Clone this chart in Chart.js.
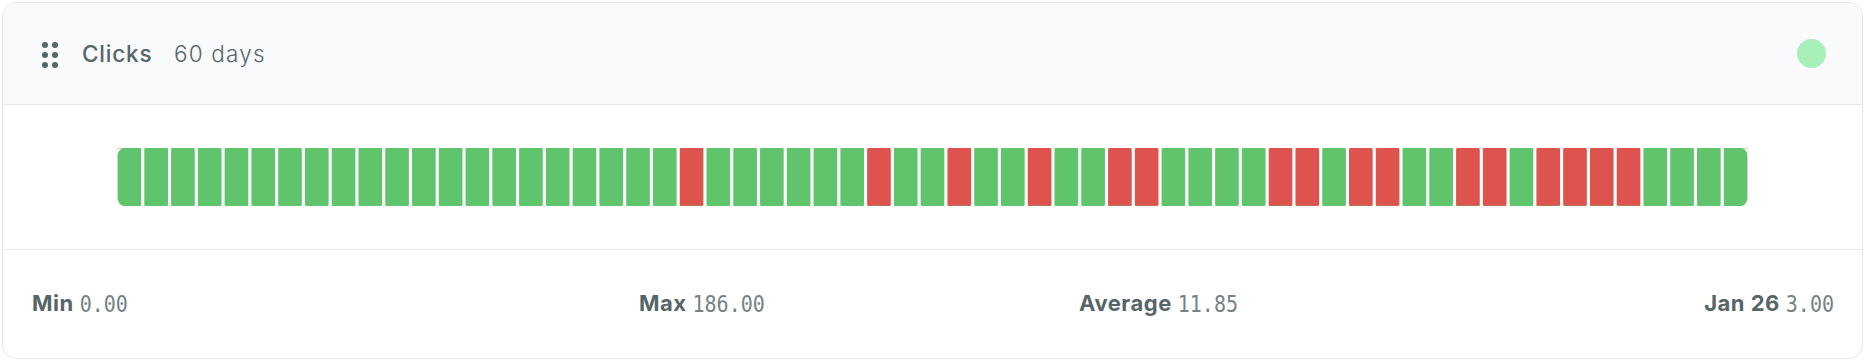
<!DOCTYPE html>
<html>
<head>
<meta charset="utf-8">
<title>Clicks</title>
<script src="https://cdn.jsdelivr.net/npm/chart.js@4"></script>
<style>
    html, body { margin: 0; padding: 0; background: #fff; overflow: hidden; }
    body { width: 1868px; height: 362px; position: relative; font-family: Inter, sans-serif; color: #566668; }
    .card { position: absolute; left: 2px; top: 2px; width: 1859px; height: 355px; border: 1px solid #e5e7eb; border-radius: 14px; overflow: hidden; }
    .head { height: 101px; background: #f9fafc; border-bottom: 1px solid #e5e7eb; }
    .foot { position: absolute; left: 0; right: 0; top: 246px; border-top: 1px solid #e8eaed; }
    .grip { position: absolute; left: 39px; top: 39px; width: 16px; height: 27px; }
    .grip i { position: absolute; width: 6px; height: 6px; border-radius: 50%; background: #566668; }
    .status { position: absolute; left: 1794px; top: 36px; width: 29px; height: 29px; border-radius: 50%; background: #a9efb9; }
    .title, .range, .stat { position: absolute; white-space: nowrap; }
    .title { left: 79px; top: 37px; font-size: 22.5px; line-height: 28px; font-weight: 500; letter-spacing: 0.8px; }
    .range { left: 171px; top: 37px; font-size: 22.5px; line-height: 28px; font-weight: 300; letter-spacing: 1.2px; }
    .stat { top: 285px; font-size: 22px; line-height: 30px; font-weight: 700; letter-spacing: 0.5px; }
    .stat span { display: inline-block; transform: scaleY(1.14); letter-spacing: 0; font-family: "DejaVu Sans Mono", monospace; font-weight: 400; font-size: 20px; color: #748285; margin-left: 6px; }
    #chartWrap { position: absolute; left: 116px; top: 148px; width: 1633px; height: 58px; }
</style>
</head>
<body>
<div class="card">
    <div class="head"></div>
    <div class="foot"></div>
    <div class="grip">
        <i style="left:0;top:0"></i><i style="left:10px;top:0"></i>
        <i style="left:0;top:10px"></i><i style="left:10px;top:10px"></i>
        <i style="left:0;top:20px"></i><i style="left:10px;top:20px"></i>
    </div>
    <div class="title">Clicks</div>
    <div class="range">60 days</div>
    <div class="status"></div>
    <div class="stat" style="left:29px">Min<span>0.00</span></div>
    <div class="stat" style="left:636px">Max<span>186.00</span></div>
    <div class="stat" style="left:1076px">Average<span>11.85</span></div>
    <div class="stat" style="right:28px">Jan 26<span>3.00</span></div>
</div>
<div id="chartWrap"><canvas id="clicksChart" width="1633" height="58"></canvas></div>

<script>
var days = [
    'Nov 27', 'Nov 28', 'Nov 29', 'Nov 30',
    'Dec 1', 'Dec 2', 'Dec 3', 'Dec 4', 'Dec 5', 'Dec 6', 'Dec 7', 'Dec 8', 'Dec 9', 'Dec 10',
    'Dec 11', 'Dec 12', 'Dec 13', 'Dec 14', 'Dec 15', 'Dec 16', 'Dec 17', 'Dec 18', 'Dec 19', 'Dec 20',
    'Dec 21', 'Dec 22', 'Dec 23', 'Dec 24', 'Dec 25', 'Dec 26', 'Dec 27', 'Dec 28', 'Dec 29', 'Dec 30', 'Dec 31',
    'Jan 1', 'Jan 2', 'Jan 3', 'Jan 4', 'Jan 5', 'Jan 6', 'Jan 7', 'Jan 8', 'Jan 9', 'Jan 10',
    'Jan 11', 'Jan 12', 'Jan 13', 'Jan 14', 'Jan 15', 'Jan 16', 'Jan 17', 'Jan 18', 'Jan 19', 'Jan 20',
    'Jan 21', 'Jan 22', 'Jan 23', 'Jan 24', 'Jan 25', 'Jan 26'
];
// 1 = day was above threshold (green), 0 = it was not (red)
var aboveThreshold = [
    1, 1, 1, 1, 1, 1, 1, 1, 1, 1,
    1, 1, 1, 1, 1, 1, 1, 1, 1, 1,
    1, 0, 1, 1, 1, 1, 1, 1, 0, 1,
    1, 0, 1, 1, 0, 1, 1, 0, 0, 1,
    1, 1, 1, 0, 0, 1, 0, 0, 1, 1,
    0, 0, 1, 0, 0, 0, 0, 1, 1, 1,
    1
];
var belowThreshold = [
    0, 0, 0, 0, 0, 0, 0, 0, 0, 0,
    0, 0, 0, 0, 0, 0, 0, 0, 0, 0,
    0, 1, 0, 0, 0, 0, 0, 0, 1, 0,
    0, 1, 0, 0, 1, 0, 0, 1, 1, 0,
    0, 0, 0, 1, 1, 0, 1, 1, 0, 0,
    1, 1, 0, 1, 1, 1, 1, 0, 0, 0,
    0
];

// Outer corners of the strip are rounder than the inner bars
function barRadius(context) {
    var first = context.dataIndex === 0;
    var last = context.dataIndex === days.length - 1;
    return {
        topLeft: first ? 8 : 2,
        bottomLeft: first ? 8 : 2,
        topRight: last ? 8 : 2,
        bottomRight: last ? 8 : 2
    };
}

var ctx = document.getElementById('clicksChart').getContext('2d');
new Chart(ctx, {
    type: 'bar',
    data: {
        labels: days,
        datasets: [
            { label: 'Above', data: aboveThreshold, backgroundColor: '#5fc46b', borderRadius: barRadius, borderSkipped: false, barThickness: 23 },
            { label: 'Below', data: belowThreshold, backgroundColor: '#de534e', borderRadius: barRadius, borderSkipped: false, barThickness: 23 }
        ]
    },
    options: {
        responsive: false,
        animation: false,
        layout: { padding: 0 },
        plugins: { legend: { display: false }, tooltip: { enabled: false } },
        scales: {
            x: { display: false, stacked: true },
            y: { display: false, stacked: true, min: 0, max: 1 }
        }
    }
});
</script>
</body>
</html>
